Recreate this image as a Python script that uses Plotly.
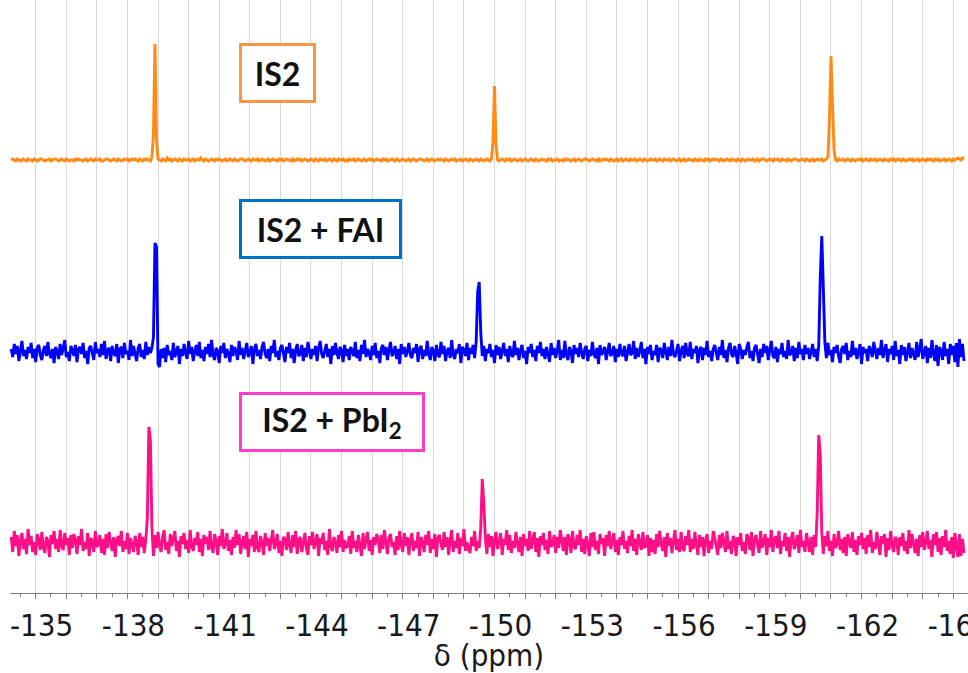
import plotly.graph_objects as go

# chemical-shift sampling grid (ppm), 0.05 ppm spacing, 20 samples per ppm row
ppm = [
 -134.20,-134.25,-134.30,-134.35,-134.40,-134.45,-134.50,-134.55,-134.60,-134.65,-134.70,-134.75,-134.80,-134.85,-134.90,-134.95,-135.00,-135.05,-135.10,-135.15,
 -135.20,-135.25,-135.30,-135.35,-135.40,-135.45,-135.50,-135.55,-135.60,-135.65,-135.70,-135.75,-135.80,-135.85,-135.90,-135.95,-136.00,-136.05,-136.10,-136.15,
 -136.20,-136.25,-136.30,-136.35,-136.40,-136.45,-136.50,-136.55,-136.60,-136.65,-136.70,-136.75,-136.80,-136.85,-136.90,-136.95,-137.00,-137.05,-137.10,-137.15,
 -137.20,-137.25,-137.30,-137.35,-137.40,-137.45,-137.50,-137.55,-137.60,-137.65,-137.70,-137.75,-137.80,-137.85,-137.90,-137.95,-138.00,-138.05,-138.10,-138.15,
 -138.20,-138.25,-138.30,-138.35,-138.40,-138.45,-138.50,-138.55,-138.60,-138.65,-138.70,-138.75,-138.80,-138.85,-138.90,-138.95,-139.00,-139.05,-139.10,-139.15,
 -139.20,-139.25,-139.30,-139.35,-139.40,-139.45,-139.50,-139.55,-139.60,-139.65,-139.70,-139.75,-139.80,-139.85,-139.90,-139.95,-140.00,-140.05,-140.10,-140.15,
 -140.20,-140.25,-140.30,-140.35,-140.40,-140.45,-140.50,-140.55,-140.60,-140.65,-140.70,-140.75,-140.80,-140.85,-140.90,-140.95,-141.00,-141.05,-141.10,-141.15,
 -141.20,-141.25,-141.30,-141.35,-141.40,-141.45,-141.50,-141.55,-141.60,-141.65,-141.70,-141.75,-141.80,-141.85,-141.90,-141.95,-142.00,-142.05,-142.10,-142.15,
 -142.20,-142.25,-142.30,-142.35,-142.40,-142.45,-142.50,-142.55,-142.60,-142.65,-142.70,-142.75,-142.80,-142.85,-142.90,-142.95,-143.00,-143.05,-143.10,-143.15,
 -143.20,-143.25,-143.30,-143.35,-143.40,-143.45,-143.50,-143.55,-143.60,-143.65,-143.70,-143.75,-143.80,-143.85,-143.90,-143.95,-144.00,-144.05,-144.10,-144.15,
 -144.20,-144.25,-144.30,-144.35,-144.40,-144.45,-144.50,-144.55,-144.60,-144.65,-144.70,-144.75,-144.80,-144.85,-144.90,-144.95,-145.00,-145.05,-145.10,-145.15,
 -145.20,-145.25,-145.30,-145.35,-145.40,-145.45,-145.50,-145.55,-145.60,-145.65,-145.70,-145.75,-145.80,-145.85,-145.90,-145.95,-146.00,-146.05,-146.10,-146.15,
 -146.20,-146.25,-146.30,-146.35,-146.40,-146.45,-146.50,-146.55,-146.60,-146.65,-146.70,-146.75,-146.80,-146.85,-146.90,-146.95,-147.00,-147.05,-147.10,-147.15,
 -147.20,-147.25,-147.30,-147.35,-147.40,-147.45,-147.50,-147.55,-147.60,-147.65,-147.70,-147.75,-147.80,-147.85,-147.90,-147.95,-148.00,-148.05,-148.10,-148.15,
 -148.20,-148.25,-148.30,-148.35,-148.40,-148.45,-148.50,-148.55,-148.60,-148.65,-148.70,-148.75,-148.80,-148.85,-148.90,-148.95,-149.00,-149.05,-149.10,-149.15,
 -149.20,-149.25,-149.30,-149.35,-149.40,-149.45,-149.50,-149.55,-149.60,-149.65,-149.70,-149.75,-149.80,-149.85,-149.90,-149.95,-150.00,-150.05,-150.10,-150.15,
 -150.20,-150.25,-150.30,-150.35,-150.40,-150.45,-150.50,-150.55,-150.60,-150.65,-150.70,-150.75,-150.80,-150.85,-150.90,-150.95,-151.00,-151.05,-151.10,-151.15,
 -151.20,-151.25,-151.30,-151.35,-151.40,-151.45,-151.50,-151.55,-151.60,-151.65,-151.70,-151.75,-151.80,-151.85,-151.90,-151.95,-152.00,-152.05,-152.10,-152.15,
 -152.20,-152.25,-152.30,-152.35,-152.40,-152.45,-152.50,-152.55,-152.60,-152.65,-152.70,-152.75,-152.80,-152.85,-152.90,-152.95,-153.00,-153.05,-153.10,-153.15,
 -153.20,-153.25,-153.30,-153.35,-153.40,-153.45,-153.50,-153.55,-153.60,-153.65,-153.70,-153.75,-153.80,-153.85,-153.90,-153.95,-154.00,-154.05,-154.10,-154.15,
 -154.20,-154.25,-154.30,-154.35,-154.40,-154.45,-154.50,-154.55,-154.60,-154.65,-154.70,-154.75,-154.80,-154.85,-154.90,-154.95,-155.00,-155.05,-155.10,-155.15,
 -155.20,-155.25,-155.30,-155.35,-155.40,-155.45,-155.50,-155.55,-155.60,-155.65,-155.70,-155.75,-155.80,-155.85,-155.90,-155.95,-156.00,-156.05,-156.10,-156.15,
 -156.20,-156.25,-156.30,-156.35,-156.40,-156.45,-156.50,-156.55,-156.60,-156.65,-156.70,-156.75,-156.80,-156.85,-156.90,-156.95,-157.00,-157.05,-157.10,-157.15,
 -157.20,-157.25,-157.30,-157.35,-157.40,-157.45,-157.50,-157.55,-157.60,-157.65,-157.70,-157.75,-157.80,-157.85,-157.90,-157.95,-158.00,-158.05,-158.10,-158.15,
 -158.20,-158.25,-158.30,-158.35,-158.40,-158.45,-158.50,-158.55,-158.60,-158.65,-158.70,-158.75,-158.80,-158.85,-158.90,-158.95,-159.00,-159.05,-159.10,-159.15,
 -159.20,-159.25,-159.30,-159.35,-159.40,-159.45,-159.50,-159.55,-159.60,-159.65,-159.70,-159.75,-159.80,-159.85,-159.90,-159.95,-160.00,-160.05,-160.10,-160.15,
 -160.20,-160.25,-160.30,-160.35,-160.40,-160.45,-160.50,-160.55,-160.60,-160.65,-160.70,-160.75,-160.80,-160.85,-160.90,-160.95,-161.00,-161.05,-161.10,-161.15,
 -161.20,-161.25,-161.30,-161.35,-161.40,-161.45,-161.50,-161.55,-161.60,-161.65,-161.70,-161.75,-161.80,-161.85,-161.90,-161.95,-162.00,-162.05,-162.10,-162.15,
 -162.20,-162.25,-162.30,-162.35,-162.40,-162.45,-162.50,-162.55,-162.60,-162.65,-162.70,-162.75,-162.80,-162.85,-162.90,-162.95,-163.00,-163.05,-163.10,-163.15,
 -163.20,-163.25,-163.30,-163.35,-163.40,-163.45,-163.50,-163.55,-163.60,-163.65,-163.70,-163.75,-163.80,-163.85,-163.90,-163.95,-164.00,-164.05,-164.10,-164.15,
 -164.20,-164.25,-164.30,-164.35,-164.40,-164.45,-164.50,-164.55,-164.60,-164.65,-164.70,-164.75,-164.80,-164.85,-164.90,-164.95,-165.00,-165.05,-165.10,-165.15,
 -165.20,-165.25,-165.30,-165.35,
]

# intensities (arbitrary units) at each sample
is2 = [
 0,1,0,-1,1,0,-1,0,1,0,-1,1,0,0,-1,1,0,-1,0,1,
 1,0,-1,0,0,1,-1,0,1,1,0,-1,0,1,0,-1,1,0,-1,0,
 0,-1,1,0,1,0,0,-1,0,1,-1,0,1,0,-1,1,0,0,1,-1,
 -1,0,1,1,0,-1,0,1,0,-1,1,0,-1,0,1,0,1,-1,0,1,
 0,1,0,-1,1,0,-1,1,0,1,0,-1,3,25,116,20,1,0,-1,1,
 0,-1,2,0,1,-1,0,1,0,-1,1,0,-1,1,0,0,1,-1,0,1,
 -1,0,1,0,2,0,-1,1,0,-1,0,1,0,-1,1,0,1,0,-1,0,
 1,-1,0,1,0,-1,1,0,-1,0,1,1,0,-1,0,1,0,-1,1,0,
 0,1,-1,0,1,0,-1,0,1,-1,0,1,0,0,-1,1,0,1,-1,0,
 1,0,0,-1,1,-1,0,1,0,1,-1,0,1,0,-1,0,1,0,-1,1,
 0,-1,1,0,0,1,-1,0,1,0,-1,1,0,-1,1,0,0,1,-1,0,
 -1,1,0,0,1,-1,0,1,0,-1,0,1,-1,0,1,0,1,-1,0,1,
 0,0,-1,1,0,1,-1,0,0,1,0,-1,1,0,-1,0,1,0,-1,0,
 1,-1,0,1,0,-1,0,1,1,0,-1,0,1,-1,0,1,0,-1,0,1,
 0,1,0,-1,1,0,-1,0,1,0,1,-1,0,0,1,-1,0,1,0,-1,
 1,0,-1,0,1,0,-1,1,0,-1,0,1,0,-1,1,18,74,15,0,-1,
 0,1,0,-1,1,0,1,-1,0,1,0,-1,0,1,-1,0,1,0,-1,0,
 1,0,-1,1,0,-1,0,1,0,0,-1,1,0,1,-1,0,0,1,-1,0,
 0,-1,1,0,1,0,-1,0,1,-1,0,1,0,-1,0,1,1,0,-1,0,
 1,0,0,-1,1,-1,0,1,0,1,0,-1,1,0,-1,0,1,-1,0,1,
 -1,0,1,0,-1,1,0,0,1,-1,0,1,0,-1,1,0,-1,0,1,0,
 0,1,-1,0,1,0,-1,1,0,0,1,-1,0,1,0,-1,0,1,-1,0,
 1,-1,0,1,0,0,-1,1,0,-1,1,0,0,-1,1,0,1,-1,0,1,
 0,1,0,-1,1,0,-1,0,1,0,-1,1,0,0,-1,1,0,-1,1,0,
 -1,0,1,0,0,1,-1,0,1,-1,0,1,1,0,-1,0,1,0,-1,1,
 0,1,0,-1,1,0,0,-1,1,0,-1,0,1,1,0,-1,0,1,0,-1,
 1,0,-1,0,1,-1,0,1,0,0,1,-1,0,1,3,40,104,63,10,0,
 -1,1,0,0,1,-1,0,1,0,-1,1,0,-1,0,1,0,1,-1,0,1,
 0,-1,1,0,0,1,-1,0,1,0,-1,1,0,0,-1,1,0,1,-1,0,
 1,0,-1,1,0,-1,0,1,0,1,-1,0,0,1,-1,0,1,0,-1,1,
 0,1,0,-1,1,0,1,-1,0,0,1,-1,0,1,0,-1,1,0,1,2,
 1,0,2,1,
]

is2_fai = [
 3,-5,8,-2,6,-9,1,11,-4,2,-7,5,-1,9,-6,3,-10,4,7,-3,
 -8,2,6,-4,10,-2,-6,3,-11,5,1,-7,8,-3,4,12,-5,0,-9,6,
 2,-4,7,-10,3,5,-2,9,-6,1,-12,4,6,-3,-8,10,-1,3,-5,8,
 -3,11,-7,2,4,-9,6,-1,-4,8,-11,3,5,-6,9,-2,1,-8,12,-4,
 6,-2,-9,4,8,-5,2,-7,10,-3,5,-1,4,15,109,105,-12,-15,3,-6,
 4,-10,7,-3,1,-8,9,-5,2,6,-12,3,-4,8,-1,-7,11,-2,5,-9,
 1,7,-4,10,-6,2,-9,5,-2,8,-5,12,-3,-8,4,1,-11,6,-1,9,
 -6,3,-2,-10,7,-4,5,1,-8,11,-3,4,-7,2,9,-5,-1,6,-12,3,
 8,-4,2,-7,5,10,-2,-6,3,-9,6,-1,12,-5,1,-8,4,7,-3,-10,
 5,-1,9,-6,3,-11,2,8,-4,-2,7,-9,4,-5,10,1,-7,3,-3,6,
 -9,4,11,-2,-6,1,8,-5,3,-12,6,-3,9,-1,-7,5,2,-10,7,-4,
 3,-8,5,1,-4,10,-6,2,-9,7,-2,12,-5,3,-1,-8,6,-3,9,-6,
 1,-11,4,7,-3,5,-8,2,10,-4,-1,6,-7,3,-12,8,-2,5,-5,1,
 9,-3,-6,4,-1,8,-10,3,6,-7,2,-4,11,-2,-8,5,1,-9,7,-3,
 -5,10,-2,6,-9,1,4,-6,12,-3,-7,3,-1,8,-11,5,2,-4,9,-8,
 4,-2,7,-6,10,60,70,20,-4,6,-9,3,-1,8,-5,2,-11,7,-3,5,
 -7,1,9,-4,3,-10,6,-2,-5,11,-3,4,-8,2,7,-6,1,-12,5,-1,
 8,-5,2,-9,6,-1,10,-4,3,-7,5,-2,-10,9,-3,4,-6,1,12,-8,
 2,-6,11,-3,-8,5,1,-11,7,-2,4,-5,9,-1,-7,3,6,-9,2,-4,
 10,-2,-6,4,-12,7,-3,1,5,-8,2,9,-4,-1,6,-10,3,-5,8,-2,
 -4,6,-9,2,8,-3,-1,11,-7,4,-5,1,10,-6,3,-12,5,-2,7,-8,
 1,-3,7,-10,4,2,-6,9,-1,-8,5,-4,12,-2,-5,3,8,-9,1,6,
 -6,9,-2,-4,10,-7,3,-1,6,-11,2,5,-8,4,-3,11,-5,1,-9,3,
 7,-1,-8,5,-3,12,-6,2,-10,4,9,-2,-5,6,-1,-12,8,3,-7,2,
 -3,5,10,-6,1,-9,4,7,-2,-11,3,-5,8,-1,6,-8,2,11,-4,-6,
 5,-10,3,-2,9,-5,1,-7,12,-3,-1,6,-9,4,-6,10,-2,3,-8,7,
 -2,4,-7,1,8,-5,3,-9,6,74,116,64,10,-6,9,-3,2,-10,5,-1,
 7,-4,-11,3,6,-2,9,-8,1,-5,11,-3,4,-7,2,8,-12,5,-1,3,
 -9,6,2,-5,10,-1,-7,4,-3,12,-6,1,8,-10,3,-2,6,-8,11,-4,
 2,-12,7,-3,5,-9,1,9,-6,4,-2,-8,10,-5,3,13,-7,-1,6,-11,
 4,-6,12,-2,-9,7,-14,5,1,-8,10,-4,3,-12,8,-3,6,-10,9,-15,
 13,-5,8,-9,
]

is2_pbi2 = [
 6,-9,12,-3,8,-13,2,10,-6,4,-11,14,-2,7,-9,1,-12,9,3,-7,
 11,-4,-10,6,2,-14,8,-1,12,-6,4,-9,13,-3,-7,10,-2,5,-12,8,
 -5,9,3,-11,7,-2,14,-8,1,-6,10,-13,5,2,-9,12,-4,-1,8,-10,
 4,-12,9,-5,11,1,-8,6,-14,3,7,-3,12,-9,2,-6,10,-11,5,-1,
 -9,7,2,-12,10,-4,6,-10,3,25,116,103,15,-13,8,-5,11,-2,-9,6,
 13,-7,1,-11,9,-3,5,12,-8,2,-14,7,-1,10,-6,3,-10,13,-4,-8,
 5,-2,11,-9,4,-13,8,-1,6,-7,12,-4,-10,9,2,-12,7,-3,14,-6,
 -1,10,-8,3,-12,6,-5,13,-2,9,-11,1,7,-6,11,-14,4,-3,8,-9,
 12,-5,-9,7,1,-12,10,-3,5,-8,3,13,-6,-1,9,-10,2,-13,6,4,
 -7,11,-2,-10,8,-4,12,-11,3,6,-9,1,10,-5,-12,7,-2,11,-6,2,
 9,-13,5,-1,10,-7,2,-12,14,-3,-8,6,1,-10,8,-4,12,-9,3,-5,
 -3,7,-11,12,-5,2,-9,8,-1,-13,10,-6,4,11,-8,3,-12,6,-2,9,
 4,-10,8,-6,13,-2,-11,5,9,-4,1,-12,7,-7,12,-1,-9,10,-3,6,
 -12,3,10,-8,2,-5,11,-13,6,1,-9,8,-2,12,-10,4,-6,9,-14,5,
 8,-1,-7,11,-4,6,-12,3,13,-9,2,-5,10,-11,5,-3,14,-8,1,-6,
 -10,6,-3,12,-8,2,-5,15,64,40,5,-11,9,-4,7,-13,3,11,-6,1,
 10,-12,4,-2,13,-7,8,-10,2,-5,11,-1,-9,6,-13,9,-3,4,-8,12,
 -6,2,11,-9,5,-14,7,-2,10,-7,3,-11,12,-4,-1,8,-10,6,-5,13,
 1,-8,6,-12,9,3,-10,12,-4,-6,8,-2,13,-9,4,-11,7,-1,-13,10,
 -4,11,-7,2,-11,9,-1,5,-13,8,-3,12,-6,1,10,-9,3,-12,6,-2,
 12,-6,2,-10,7,-3,13,-8,4,-12,9,1,-7,11,-5,-2,8,-13,5,-9,
 3,-11,9,-4,12,-1,-8,6,-14,10,-3,5,-10,2,13,-7,4,-9,11,-5,
 -8,7,-2,13,-9,4,-6,11,1,-12,8,-4,6,-13,3,9,-10,2,-6,12,
 5,-3,-12,8,-5,10,-1,-9,12,-6,2,-11,7,4,-13,6,-2,10,-8,1,
 -11,9,4,-7,11,-13,3,8,-2,-10,12,-5,1,9,-12,5,-4,13,-9,3,
 7,-5,12,-11,2,-3,10,-8,6,-14,4,11,-6,-1,8,-10,13,-4,2,-9,
 10,-2,-9,6,-12,8,-4,30,108,88,10,-11,7,-3,12,-8,2,-13,9,-5,
 -1,12,-7,4,-10,6,-13,9,2,-5,11,-9,3,-12,7,-2,10,-6,5,-11,
 8,-4,13,-10,1,-6,11,-3,-12,7,-1,9,-14,5,-7,12,-2,-9,6,3,
 -12,6,-3,10,-8,2,-11,13,-5,9,-1,-10,4,-13,8,-4,11,-7,1,12,
 -6,3,-14,9,-2,11,-9,5,-12,7,-4,13,-8,2,-11,6,-15,10,-3,-14,
 9,-13,4,-10,
]

series_names = ["IS2", "IS2 + FAI", "IS2 + PbI<sub>2</sub>"]
tick_values = [-135,-136,-137,-138,-139,-140,-141,-142,-143,-144,-145,-146,-147,-148,-149,-150,
               -151,-152,-153,-154,-155,-156,-157,-158,-159,-160,-161,-162,-163,-164,-165]
tick_labels = ["-135","","","-138","","","-141","","","-144","","","-147","","","-150",
               "","","-153","","","-156","","","-159","","","-162","","","-165"]

# stacking offsets and styles
offsets = [433, 241, 50]
line_colors = ["#FF8A14", "#0000FF", "#FF0F87"]
box_colors = ["#F79646", "#0070C0", "#FF3DCB"]
box_y = [0.877, 0.613, 0.288]
box_w = [71, 157, 180]

fig = go.Figure()
for vals, off, col, name in zip([is2, is2_fai, is2_pbi2], offsets, line_colors, series_names):
    fig.add_trace(go.Scatter(
        x=ppm, y=[v + off for v in vals], mode="lines", name=name,
        line=dict(color=col, width=2.9), showlegend=False, hoverinfo="x+name",
    ))

for name, col, yy, w in zip(series_names, box_colors, box_y, box_w):
    fig.add_annotation(
        xref="paper", yref="paper", x=0.239, y=yy, xanchor="left", yanchor="middle",
        text=name, showarrow=False, bgcolor="white", bordercolor=col, borderwidth=3,
        borderpad=0, width=w, height=54, align="center",
        font=dict(family="Lato, Open Sans, sans-serif", size=32, color="#111111", weight="bold"),
    )

axis_font = dict(family="DejaVu Sans Condensed, DejaVu Sans, sans-serif", size=31, color="#1a1a1a")

fig.update_xaxes(
    range=[-134.16, -165.48], tickmode="array", tickvals=tick_values, ticktext=tick_labels,
    showgrid=True, gridcolor="#D9D9D9", gridwidth=1,
    showline=True, linecolor="#7F7F7F", linewidth=1.3,
    ticks="outside", ticklen=5, tickcolor="#7F7F7F", tickwidth=1,
    minor=dict(dtick=0.5, tick0=-135, ticks="outside", ticklen=3, tickcolor="#7F7F7F", showgrid=False),
    tickfont=axis_font, ticklabelshift=-6, ticklabeloverflow="allow", automargin=False,
    title=dict(text="δ (ppm)", font=axis_font, standoff=0),
    zeroline=False,
)
fig.update_yaxes(visible=False, range=[0, 593], showgrid=False, zeroline=False, automargin=False)

fig.update_layout(
    width=968, height=673,
    margin=dict(l=10, r=0, t=0, b=80, autoexpand=False),
    plot_bgcolor="white", paper_bgcolor="white",
)

fig.write_html("out.html", config={"displayModeBar": False},
               post_script="document.body.style.margin='0px';")
